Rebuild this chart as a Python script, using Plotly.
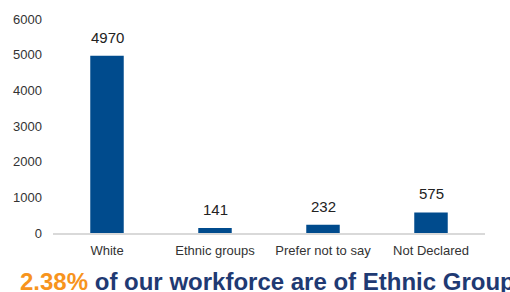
import plotly.graph_objects as go

categories = ["White", "Ethnic groups", "Prefer not to say", "Not Declared"]
values = [4970, 141, 232, 575]
tick_vals = [0, 1000, 2000, 3000, 4000, 5000, 6000]

fig = go.Figure(go.Bar(
    x=categories, y=values, width=0.31,
    marker=dict(color="#004B8D", line=dict(width=0)),
    hoverinfo="x+y",
))

annots = [dict(x=c, y=v, xref="x", yref="y", text=str(v), showarrow=False,
               xanchor="center", yanchor="bottom", yshift=8,
               font=dict(family="Liberation Sans, Arial", size=15, color="#222222"))
          for c, v in zip(categories, values)]

plot_l, plot_r, plot_t, plot_b = 53, 485, 19, 233
annots.append(dict(
    x=(267 - plot_l) / (plot_r - plot_l), y=(plot_b - 281) / (plot_b - plot_t),
    xref="paper", yref="paper", xanchor="center", yanchor="middle",
    showarrow=False,
    text="<span style='color:#F7941D'>2.38%</span> of our workforce are of Ethnic Group",
    font=dict(family="Liberation Sans, Arial", size=24, color="#1F3A73", weight="bold"),
))

fig.update_layout(
    width=510, height=292,
    margin=dict(l=plot_l, r=510 - plot_r, t=plot_t, b=292 - plot_b),
    paper_bgcolor="white", plot_bgcolor="white",
    showlegend=False,
    font=dict(family="Liberation Sans, Arial", color="#333333"),
    xaxis=dict(showline=True, linecolor="#D9D9D9", linewidth=1.5, ticks="",
               tickfont=dict(size=13, color="#333333"), showgrid=False,
               ticklabelstandoff=5),
    yaxis=dict(range=[0, 6000], tickvals=tick_vals, showgrid=False, zeroline=False,
               showline=False, ticks="", tickfont=dict(size=13, color="#333333"),
               ticklabelstandoff=10),
    annotations=annots,
)

fig.write_html("out.html", config={"displayModeBar": False},
               post_script="document.body.style.margin='0';document.body.style.overflow='hidden';")
